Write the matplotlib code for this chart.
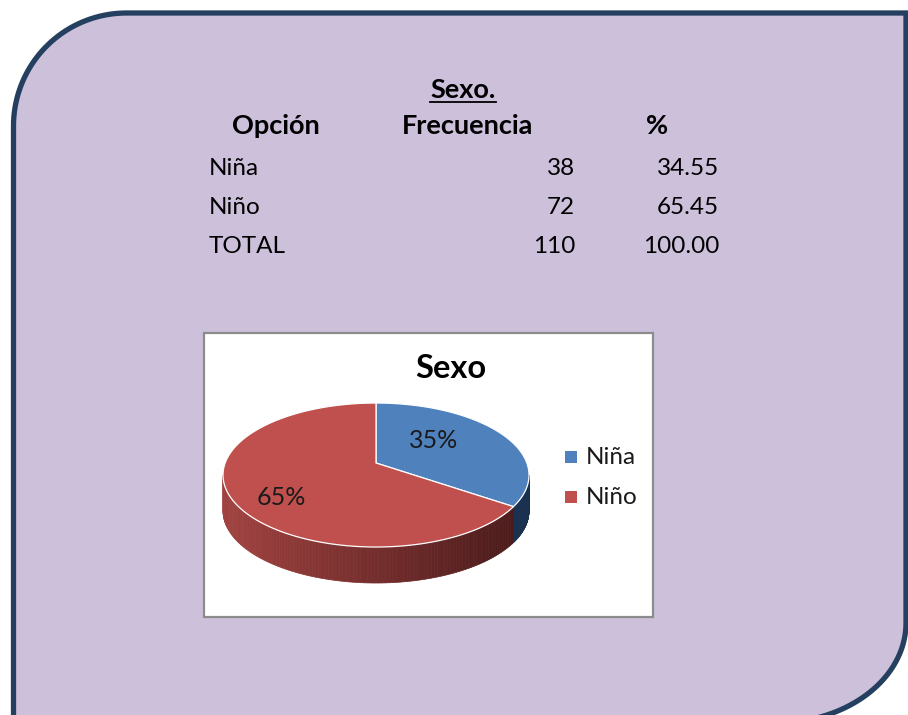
import numpy as np
import matplotlib
matplotlib.use("Agg")
import matplotlib.pyplot as plt
from matplotlib.path import Path
from matplotlib.patches import PathPatch, Polygon, Rectangle

plt.rcParams['font.family'] = ['Lato', 'DejaVu Sans']

# table data
titulo = "Sexo."
encabezados = ["Opción", "Frecuencia", "%"]
opciones = ["Niña", "Niño", "TOTAL"]
frecuencias = [38, 72, 110]
porcentajes = [34.55, 65.45, 100.00]

# pie data
pie_labels = ["Niña", "Niño"]
pie_values = [38, 72]
pie_top = ["#4F81BD", "#C0504D"]
pie_side_dark = [(0.10, 0.19, 0.31), (0.28, 0.10, 0.10)]
pie_side_light = [(0.14, 0.25, 0.40), (0.63, 0.26, 0.25)]

fig = plt.figure(figsize=(9.08, 7.15), dpi=100)
ax = fig.add_axes([0, 0, 1, 1])
ax.set_xlim(0, 908)
ax.set_ylim(715, 0)
ax.axis('off')

# background panel: rounded top-left and bottom-right corners
L, T, R, B = 13.5, 13, 906, 723
r1 = 113
ax2, by2 = 130, 100
pts = []
th = np.linspace(np.pi, 1.5*np.pi, 40)
pts += list(zip(L + r1 + r1*np.cos(th), T + r1 + r1*np.sin(th)))
pts += [(R, T), (R, B - by2)]
th = np.linspace(0, 0.5*np.pi, 40)
pts += list(zip(R - ax2 + ax2*np.cos(th), B - by2 + by2*np.sin(th)))
pts += [(L, B), (L, T + r1)]
panel = PathPatch(Path(pts), facecolor="#CCC0DA", edgecolor="#243F60", lw=3.8, zorder=0)
ax.add_patch(panel)

# table
fs_b, fs_r = 19.5, 17.5
t_sexo = ax.text(463, 98, titulo, fontsize=fs_b, fontweight='bold', ha='center', va='baseline')
ax.text(276, 134, encabezados[0], fontsize=fs_b, fontweight='bold', ha='center', va='baseline')
ax.text(468, 134, encabezados[1], fontsize=fs_b, fontweight='bold', ha='center', va='baseline')
ax.text(657, 134, encabezados[2], fontsize=fs_b, fontweight='bold', ha='center', va='baseline')
baselines = [175, 214, 253]
for op, fr, pc, yb in zip(opciones, frecuencias, porcentajes, baselines):
    ax.text(209, yb, op, fontsize=fs_r, ha='left', va='baseline')
    ax.text(575, yb, "{}".format(fr), fontsize=fs_r, ha='right', va='baseline')
    ax.text(719, yb, "{:.2f}".format(pc), fontsize=fs_r, ha='right', va='baseline')

# underline for the title
fig.canvas.draw()
bb = t_sexo.get_window_extent().transformed(ax.transData.inverted())
ax.plot([bb.x0, bb.x1], [101.5, 101.5], color='black', lw=1.3)

# chart box
ax.add_patch(Rectangle((204, 333), 449, 284, facecolor='white', edgecolor='#8C8C8C', lw=1.6, zorder=1))
ax.text(451, 378, "Sexo", fontsize=23.5, fontweight='bold', ha='center', va='baseline', zorder=5)

# 3D pie with a bit of perspective (near side larger)
vx, vy = 376, 463
k = 0.167
sx = 153*np.sqrt(1 - k**2)
sy = 72*(1 - k**2)
depth = 36
fracs = np.array(pie_values, dtype=float) / sum(pie_values)
starts = 90 - 360*np.concatenate([[0], np.cumsum(fracs)[:-1]])
ends = starts - 360*fracs

def rim(t):
    t = np.radians(t)
    w = 1 + k*np.sin(t)
    return vx + sx*np.cos(t)/w, vy - sy*np.sin(t)/w

# side walls (visible front part)
vis_lo = 180 + np.degrees(np.arcsin(k))
vis_hi = 360 - np.degrees(np.arcsin(k))
for i in range(len(pie_values)):
    t_hi, t_lo = starts[i] % 360, ends[i] % 360
    if t_hi <= t_lo:
        t_hi += 360
    segs = []
    for lo, hi in [(vis_lo, vis_hi), (vis_lo + 360, vis_hi + 360)]:
        s0, s1 = max(lo, t_lo), min(hi, t_hi)
        if s1 > s0:
            segs.append((s0, s1))
    for s0, s1 in segs:
        ts = np.linspace(s0, s1, 120)
        for j in range(len(ts) - 1):
            x0, y0 = rim(ts[j])
            x1, y1 = rim(ts[j + 1])
            f = ((x0 + x1)/2 - (vx - 153)) / (2*153)
            c = tuple(np.array(pie_side_light[i])*(1 - f) + np.array(pie_side_dark[i])*f)
            ax.add_patch(Polygon([(x0, y0), (x1, y1), (x1, y1 + depth), (x0, y0 + depth)],
                                 closed=True, facecolor=c, edgecolor=c, lw=0.5, zorder=2))

# top surface
for i in range(len(pie_values)):
    ts = np.linspace(starts[i], ends[i], 150)
    xs, ys = rim(ts)
    poly = [(vx, vy)] + list(zip(xs, ys))
    ax.add_patch(Polygon(poly, closed=True, facecolor=pie_top[i], edgecolor='white', lw=0.9, zorder=3))

# percent labels
ax.text(434, 448, "{:.0f}%".format(fracs[0]*100), fontsize=18, ha='center', va='baseline', color='#1A1A1A', zorder=5)
ax.text(281, 505, "{:.0f}%".format(fracs[1]*100), fontsize=18, ha='center', va='baseline', color='#1A1A1A', zorder=5)

# legend
for lab, col, yc in zip(pie_labels, pie_top, [457, 497]):
    ax.add_patch(Rectangle((565, yc - 6), 12, 12, facecolor=col, edgecolor='none', zorder=5))
    ax.text(586, yc, lab, fontsize=17.5, ha='left', va='center', color='#1A1A1A', zorder=5)

fig.savefig("out.png", dpi=100)
